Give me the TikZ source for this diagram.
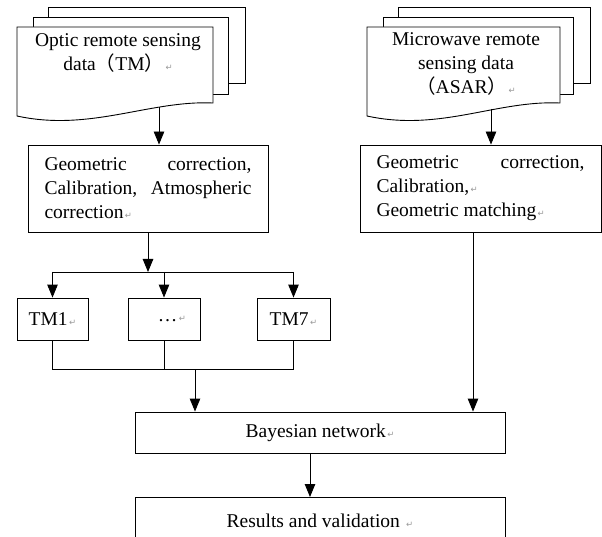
\documentclass[tikz,border=0pt]{standalone}
\usepackage{fontspec}
\setmainfont{Liberation Serif}
\newfontfamily\cjkfont{Noto Sans CJK SC}
\newfontfamily\symfont{DejaVu Sans}
\usetikzlibrary{arrows.meta}
% paragraph mark and full-width brackets
\newcommand{\pmark}{{\symfont\color{black!40}\fontsize{8.5}{8.5}\selectfont\,↵}}
\newcommand{\lpar}{{\cjkfont （}}
\newcommand{\rpar}{{\cjkfont ）}}
\begin{document}
\begin{tikzpicture}[x=1pt, y=-1pt, line width=0.9pt,
  font=\fontsize{19.5}{24}\selectfont,
  procbox/.style={draw, fill=white, inner sep=0pt},
  arrow/.style={-{Triangle[length=13pt,width=10.5pt]}},
  sheet/.style={draw, fill=white, line join=miter}]
\useasboundingbox (0,0) rectangle (602,537);
\clip (0,0) rectangle (602,537);

% ---- optic data: stacked document sheets
\draw[sheet] (48,7) rectangle (245,83);
\draw[sheet] (33,17) rectangle (228,94);
\draw[sheet] (17,27) -- (213,27) -- (213,103)
  .. controls (150,100) and (90,132) .. (17,116) -- cycle;
\node[align=center] (opttxt) at (118,53) {Optic remote sensing\\data\lpar TM\rpar\pmark};
\coordinate (optb) at (159,107.4);

% ---- microwave data: stacked document sheets
\draw[sheet] (398,7) rectangle (590,83);
\draw[sheet] (383,17) rectangle (573,94);
\draw[sheet] (367,27) -- (560,27) -- (560,103)
  .. controls (497,100) and (440,132) .. (367,116) -- cycle;
\node[align=center] (mictxt) at (466,63.5) {Microwave remote\\sensing data\\\lpar ASAR\rpar\pmark};
\coordinate (micb) at (491,109);

% ---- preprocessing boxes
\node[procbox, minimum width=240pt, minimum height=87pt, text width=207pt, align=justify]
  (geoL) at (148,188.5) {Geometric correction,\linebreak Calibration, Atmospheric\linebreak correction\pmark};
\node[procbox, minimum width=241pt, minimum height=87pt, text width=208pt, align=justify]
  (geoR) at (480.5,188.5) {Geometric correction,\linebreak Calibration,\pmark\newline Geometric matching\pmark};

% ---- band boxes
\node[procbox, minimum width=71pt, minimum height=42pt] (tm1) at (52.5,319) {TM1\pmark};
\node[procbox, minimum width=72pt, minimum height=42pt] (tmd) at (164,319) {\hspace*{16pt}\ldots\pmark};
\node[procbox, minimum width=73pt, minimum height=42pt] (tm7) at (293.5,319) {TM7\pmark};

% ---- fusion and output
\node[procbox, minimum width=370pt, minimum height=41pt] (bay) at (320,432.5) {Bayesian network\pmark};
\node[procbox, minimum width=370pt, minimum height=46pt, anchor=north] (res) at (320,497) {Results and validation \pmark};

% ---- connectors
\draw[arrow] (optb) -- (optb |- geoL.north);
\draw[arrow] (micb) -- (micb |- geoR.north);

\coordinate (busA) at (148,272);
\draw[arrow] (geoL.south) -- (busA);
\draw (tm1 |- busA) -- (tm7 |- busA);
\draw[arrow] (tm1 |- busA) -- (tm1.north);
\draw[arrow] (tmd |- busA) -- (tmd.north);
\draw[arrow] (tm7 |- busA) -- (tm7.north);

\coordinate (busB) at (195,369);
\draw (tm1.south) -- (tm1 |- busB) -- (tm7 |- busB) -- (tm7.south);
\draw (tmd.south) -- (tmd |- busB);
\draw[arrow] (busB) -- (busB |- bay.north);

\draw[arrow] ([xshift=-7.5pt]geoR.south) -- ([xshift=-7.5pt]geoR.south |- bay.north);
\draw[arrow] ([xshift=-10pt]bay.south) -- ([xshift=-10pt]res.north);
\end{tikzpicture}
\end{document}
